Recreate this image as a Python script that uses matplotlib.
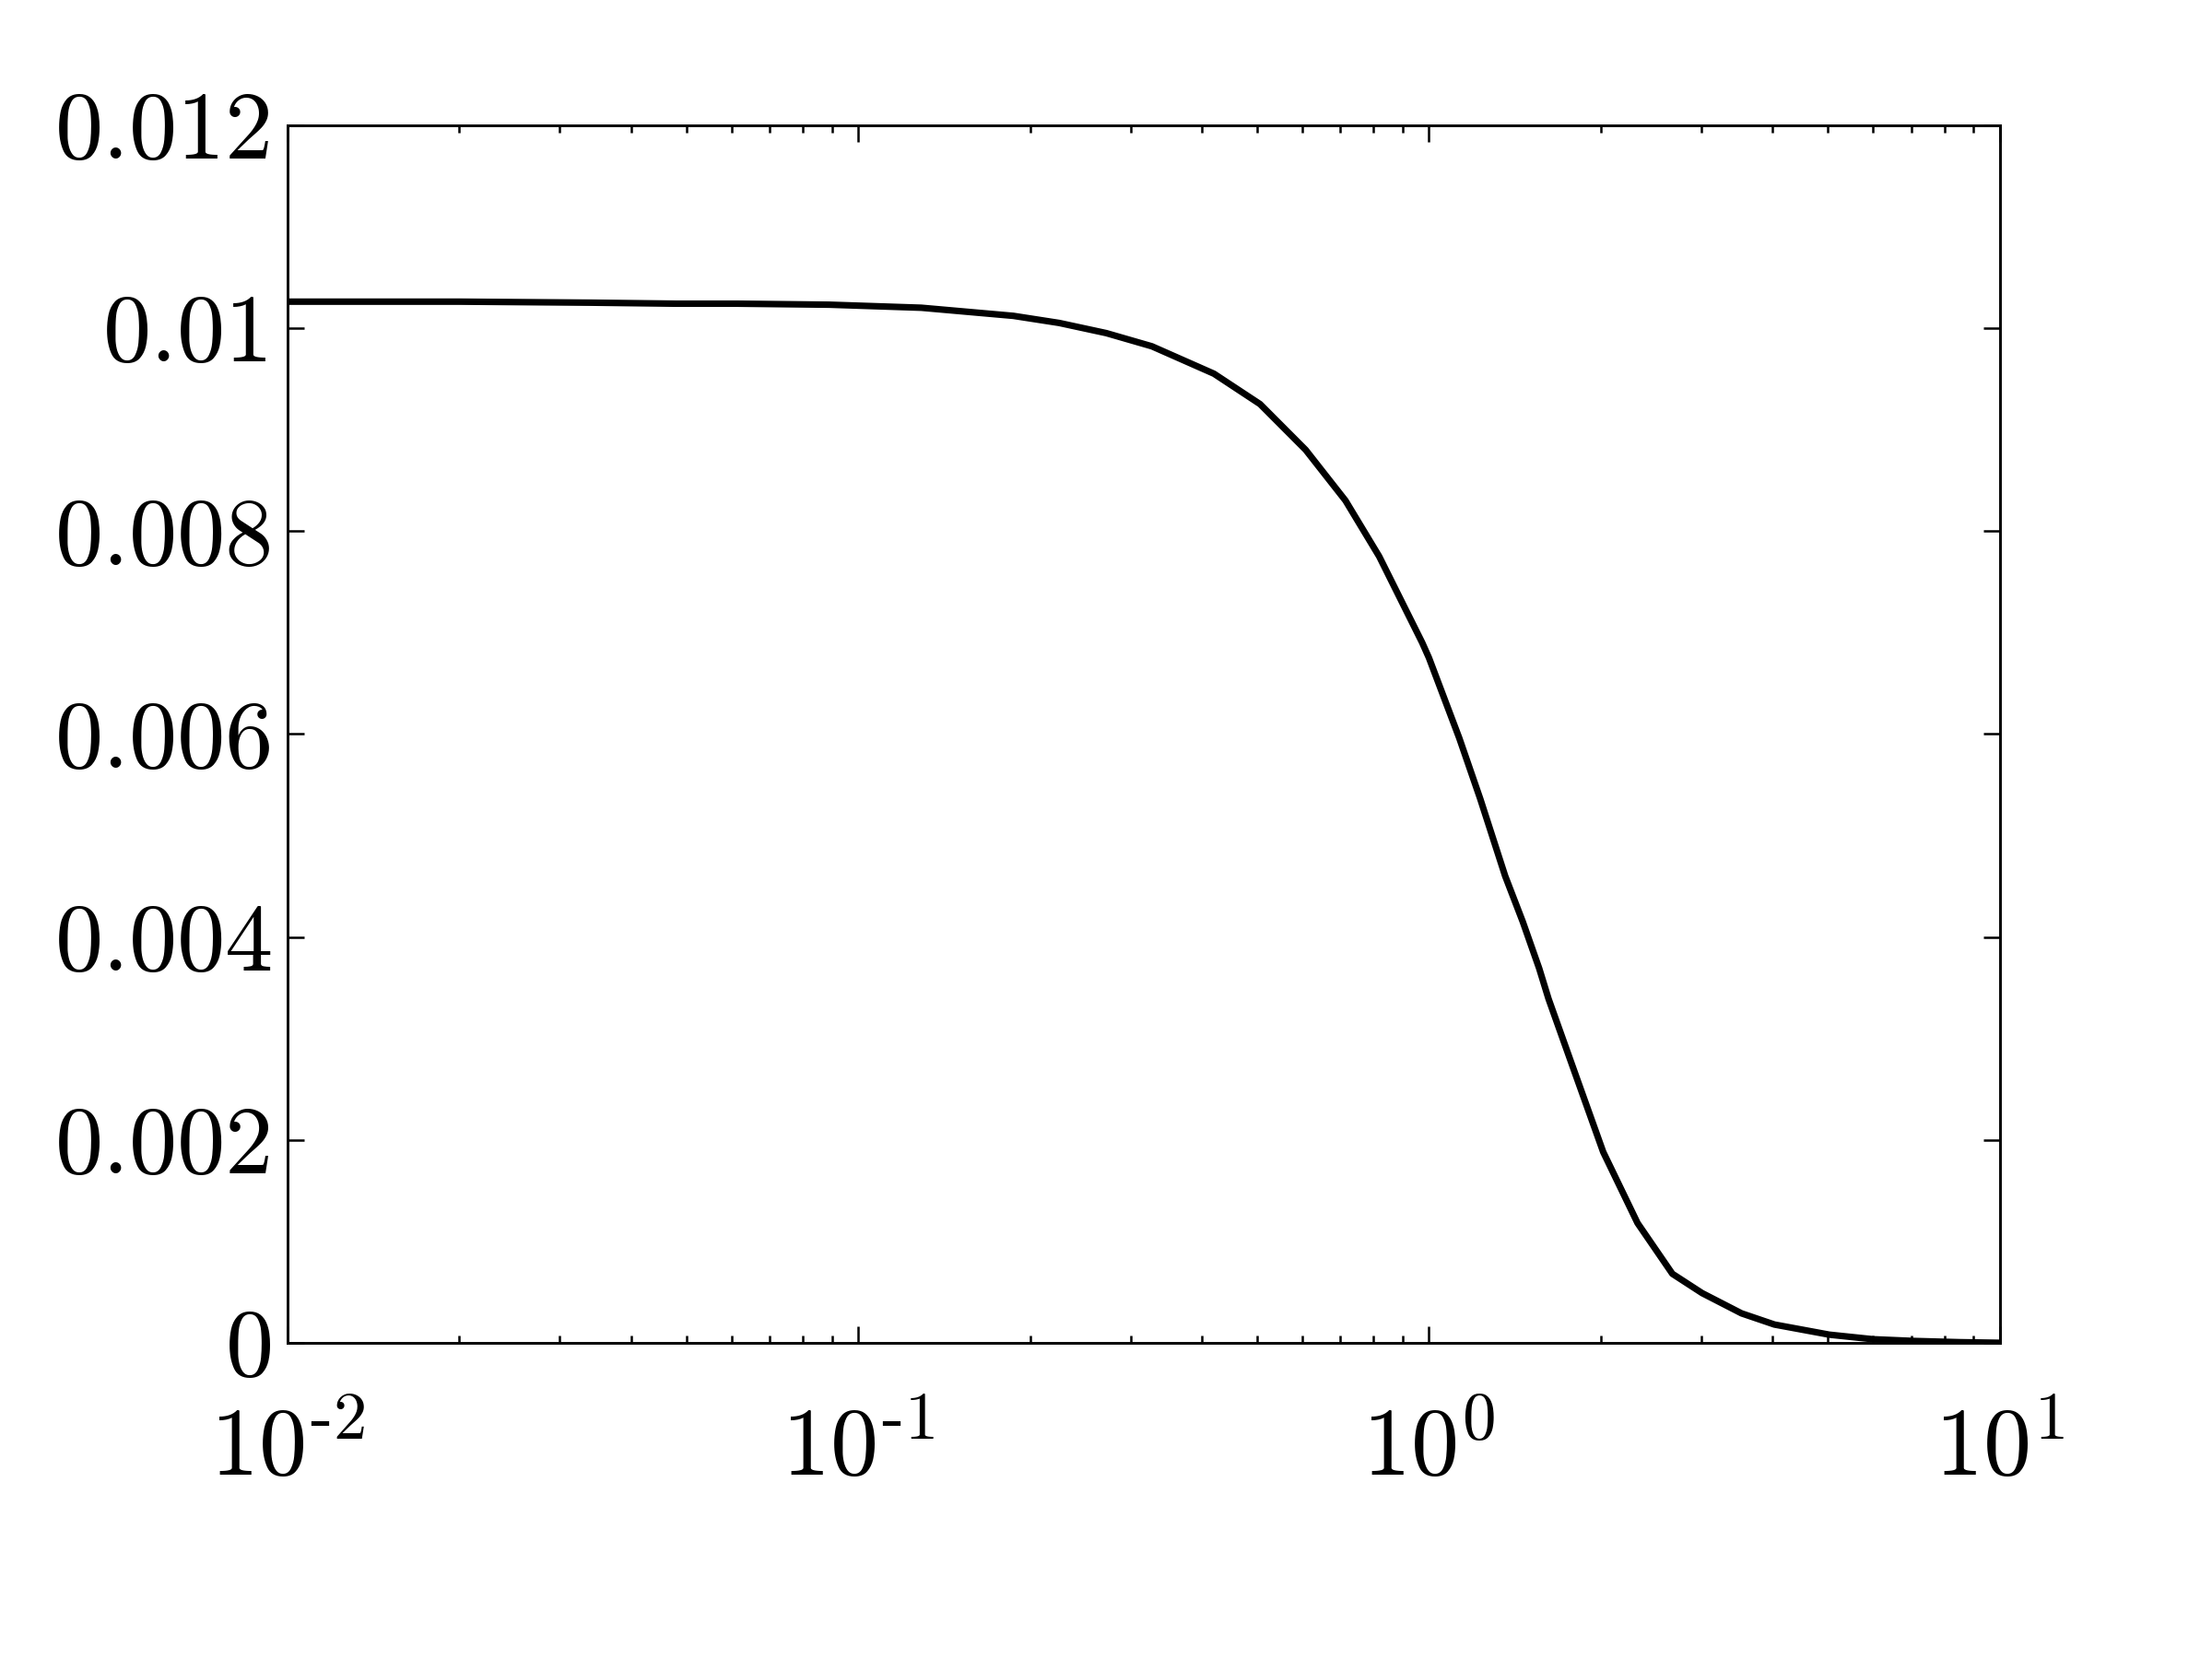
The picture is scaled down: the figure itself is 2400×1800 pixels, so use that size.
import matplotlib
matplotlib.use("Agg")
import matplotlib.pyplot as plt
from matplotlib.ticker import LogLocator, NullFormatter

# curve (log x axis)
freq = [0.01, 0.02, 0.034, 0.048, 0.0614, 0.089, 0.129, 0.187, 0.225, 0.272,
        0.327, 0.42, 0.506, 0.608, 0.714, 0.818, 0.973, 1.0, 1.13, 1.23,
        1.36, 1.46, 1.56, 1.62, 1.81, 2.02, 2.32, 2.67, 3.01, 3.53,
        4.03, 5.03, 6.0, 7.08, 8.5, 10.0]
resp = [0.01026, 0.01026, 0.01025, 0.01024, 0.01024, 0.01023, 0.0102, 0.01012, 0.01005, 0.00995,
        0.00982, 0.00955, 0.00925, 0.0088, 0.0083, 0.00775, 0.0069, 0.00675, 0.00596, 0.00536,
        0.0046, 0.00415, 0.00369, 0.00339, 0.00263, 0.00188, 0.00118, 0.00068, 0.00049, 0.00029,
        0.00018, 0.00008, 0.000035, 0.000018, 0.000006, 0.0]

xticks = [0.01, 0.1, 1, 10]
xexp = ["-2", "-1", "0", "1"]
yticks = [0, 0.002, 0.004, 0.006, 0.008, 0.01, 0.012]
ylabels = ["0", "0.002", "0.004", "0.006", "0.008", "0.01", "0.012"]

plt.rcParams['font.family'] = ['cmr10', 'DejaVu Serif']
plt.rcParams['mathtext.fontset'] = 'cm'
plt.rcParams['axes.unicode_minus'] = False

fig = plt.figure(figsize=(8, 6), dpi=300)
ax = fig.add_axes([0.130, 0.1906, 0.774, 0.734])

ax.plot(freq, resp, color="black", linewidth=1.7)

ax.set_xscale("log")
ax.set_xlim(0.01, 10)
ax.set_ylim(0, 0.012)

ax.set_xticks(xticks)
ax.set_xticklabels([f"$10^{{\\text{{{e}}}}}$" for e in xexp])
ax.xaxis.set_minor_locator(LogLocator(base=10, subs=range(2, 10), numticks=20))
ax.xaxis.set_minor_formatter(NullFormatter())
ax.set_yticks(yticks)
ax.set_yticklabels(ylabels)

for s in ax.spines.values():
    s.set_linewidth(0.7)

ax.tick_params(which="both", direction="in", top=True, right=True, width=0.6)
ax.tick_params(which="major", length=4.3)
ax.tick_params(which="minor", length=2.0)
ax.tick_params(axis="y", labelsize=25, pad=3.5)
ax.tick_params(axis="x", labelsize=25, pad=16.5)

fig.savefig("out.png", dpi=300)
